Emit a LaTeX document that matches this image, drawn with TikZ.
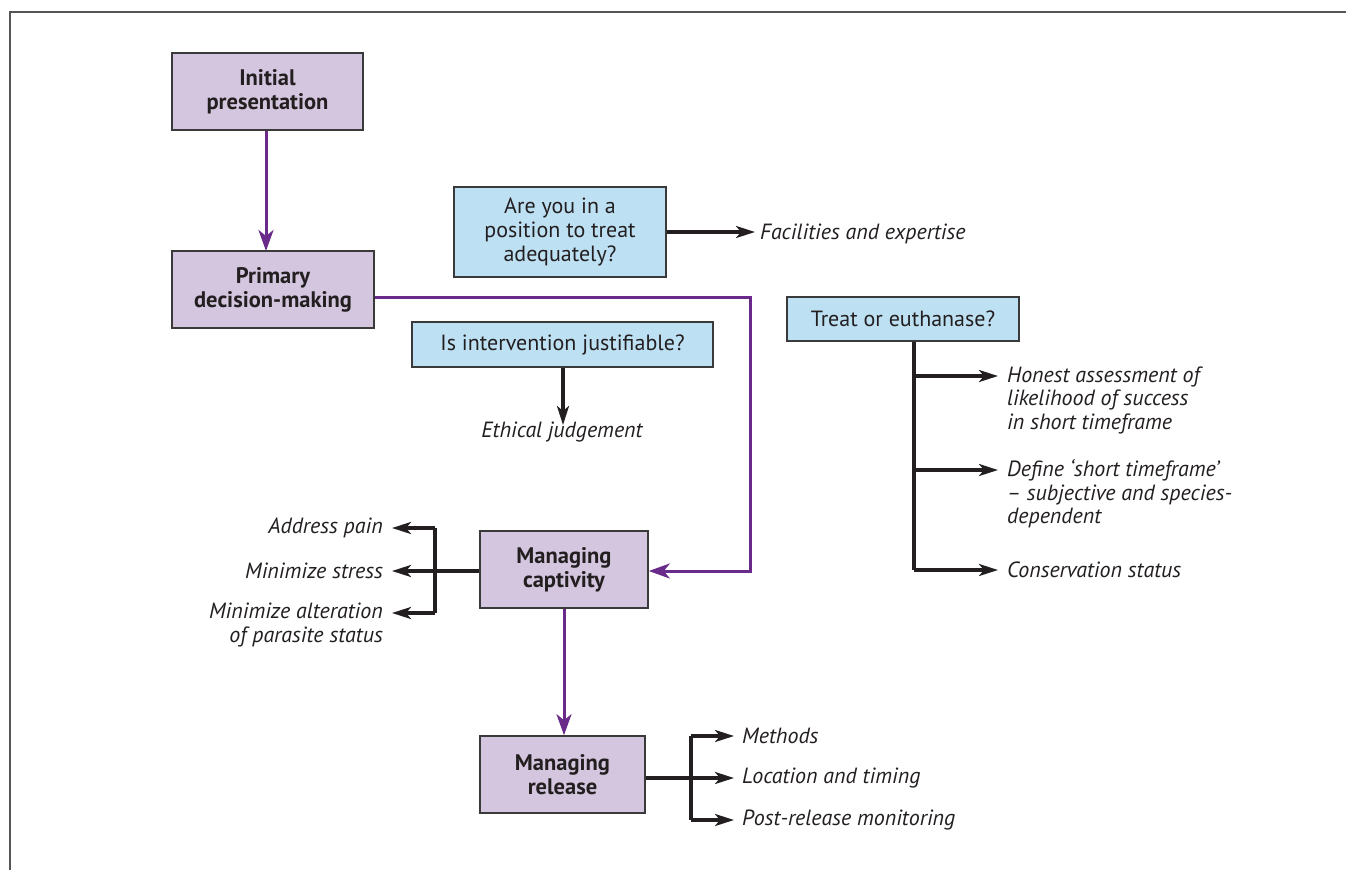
\documentclass[tikz,border=0pt]{standalone}
\usepackage{fontspec}
\setmainfont{PT Sans}
\usetikzlibrary{arrows.meta}
\definecolor{pfill}{HTML}{D4C6DE}
\definecolor{bfill}{HTML}{BDE0F3}
\definecolor{purp}{HTML}{6A2A8A}
\definecolor{bordergray}{HTML}{3A3A3A}
\definecolor{txt}{HTML}{231F20}
\definecolor{framegray}{HTML}{555555}
\begin{document}
\begin{tikzpicture}[x=1pt,y=-1pt,
  pbox/.style={draw=bordergray, line width=1.6pt, fill=pfill, align=center,
    font=\bfseries\fontsize{22.5}{24}\selectfont, inner sep=0pt, text=txt, minimum height=77pt},
  bbox/.style={draw=bordergray, line width=1.6pt, fill=bfill, align=center,
    font=\fontsize{22}{24}\selectfont, inner sep=0pt, text=txt},
  lbl/.style={font=\itshape\fontsize{22}{23.5}\selectfont, inner sep=0pt, text=txt},
  parrow/.style={draw=purp, line width=3pt, -{Stealth[length=21pt,width=15pt,inset=6pt]}},
  barrow/.style={draw=txt, line width=3.2pt, -{Stealth[length=19pt,width=12pt,inset=5pt]}},
  bline/.style={draw=txt, line width=3.2pt}]
\useasboundingbox (0,0) rectangle (1346,870);
\draw[framegray, line width=2pt] (1346,12) -- (10,12) -- (10,870);

% purple boxes
\node[pbox, minimum width=191pt] (init) at (267.5,91.5) {Initial\\presentation};
\node[pbox, minimum width=202pt] (prim) at (273,289.5) {Primary\\decision-making};
\node[pbox, minimum width=168pt] (capt) at (564,569.5) {Managing\\captivity};
\node[pbox, minimum width=165pt] (rel) at (562.5,774.5) {Managing\\release};

% blue boxes
\node[bbox, minimum width=212pt, minimum height=90pt] (pos) at (560,232) {Are you in a\\position to treat\\adequately?};
\node[bbox, minimum width=301pt, minimum height=45pt] (just) at (562.5,344.5) {Is intervention justifiable?};
\node[bbox, minimum width=232pt, minimum height=44pt] (treat) at (903,319) {Treat or euthanase?};

% labels
\node[lbl, anchor=west] (fac) at (760,234) {Facilities and expertise};
\node[lbl] (eth) at (562,432) {Ethical judgement};
\node[lbl, anchor=west, align=left] (hon) at (1007,400) {Honest assessment of\\likelihood of success\\in short timeframe};
\node[lbl, anchor=west, align=left] (def) at (1007,494) {Define `short timeframe'\\-- subjective and species-\\dependent};
\node[lbl, anchor=west] (cons) at (1007,570) {Conservation status};
\node[lbl, anchor=east] (pain) at (383,528) {Address pain};
\node[lbl, anchor=east] (stress) at (383,571) {Minimize stress};
\node[lbl, anchor=east, align=right] (alt) at (383,625) {Minimize alteration\\of parasite status};
\node[lbl, anchor=west] (meth) at (742,736) {Methods};
\node[lbl, anchor=west] (loc) at (742,778) {Location and timing};
\node[lbl, anchor=west] (post) at (742,820) {Post-release monitoring};

% coordinates
\coordinate (pr) at (750,297);
\coordinate (tx) at (914,376);
\coordinate (lx) at (435,571);
\coordinate (rx) at (691,778);

% purple connectors
\draw[parrow] (init.south -| 266,0) -- (266,251);
\draw[parrow] (prim.east |- pr) -- (pr) -- (750,571) -- (capt.east |- 0,571);
\draw[parrow] (capt.south) -- (capt.south |- rel.north);

% black connectors
\draw[barrow] (pos.east) -- (pos.east -| 755,0);
\draw[barrow] (just.south -| 563,0) -- (563,425);
\draw[bline] (treat.south -| tx) -- (914,570);
\draw[barrow] (tx) -- (998,376);
\draw[barrow] (914,470) -- (998,470);
\draw[barrow] (914,570) -- (998,570);

\draw[bline] (capt.west |- lx) -- (lx);
\draw[bline] (435,528) -- (435,613);
\draw[barrow] (435,528) -- (392,528);
\draw[barrow] (lx) -- (392,571);
\draw[barrow] (435,613) -- (392,613);

\draw[bline] (rel.east |- rx) -- (rx);
\draw[bline] (691,736) -- (691,820);
\draw[barrow] (691,736) -- (734,736);
\draw[barrow] (rx) -- (734,778);
\draw[barrow] (691,820) -- (734,820);
\end{tikzpicture}
\end{document}
